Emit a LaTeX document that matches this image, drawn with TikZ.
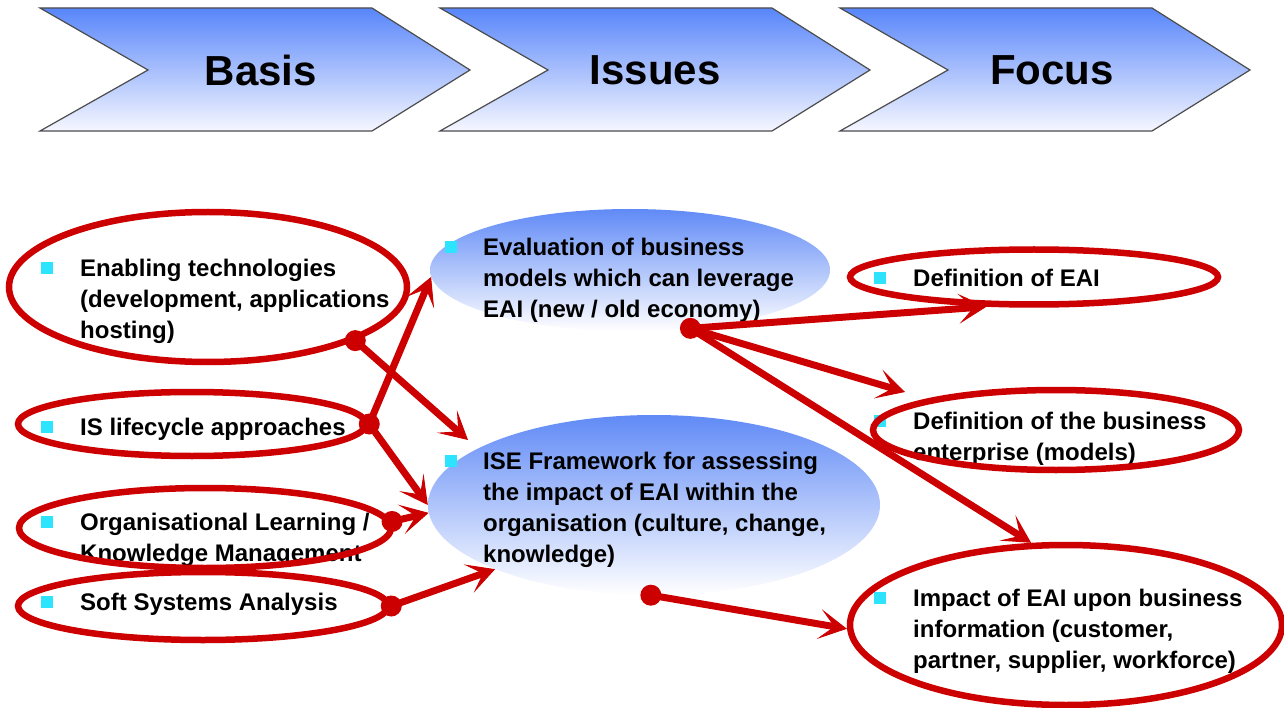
\documentclass[tikz,border=0pt]{standalone}
\usepackage{fontspec}
\setmainfont{Liberation Sans}
\usetikzlibrary{shapes.geometric,arrows.meta}
\definecolor{eaired}{RGB}{204,0,0}
\definecolor{chevblue}{RGB}{88,134,250}
\definecolor{chevlow}{RGB}{246,247,255}
\definecolor{ellblue}{RGB}{96,138,246}
\definecolor{bulletcyan}{RGB}{45,228,255}
\begin{document}
\begin{tikzpicture}[x=1pt,y=-1pt,
  chev/.style={draw=black!70, line width=1.2pt, top color=chevblue, bottom color=chevlow},
  chevtext/.style={font=\fontsize{42}{50}\selectfont\bfseries, inner sep=0},
  redell/.style={ellipse, draw=eaired, line width=6.5pt, inner sep=0},
  blueell/.style={ellipse, inner sep=0, top color=ellblue, bottom color=white},
  txt/.style={anchor=north west, align=left, inner sep=0, font=\fontsize{24}{31}\selectfont\bfseries},
  bul/.style={rectangle, fill=bulletcyan, minimum size=12pt, inner sep=0},
  dot/.style={circle, fill=eaired, minimum size=21pt, inner sep=0},
  link/.style={draw=eaired, line width=7pt, -{Stealth[length=28pt,width=30pt,inset=15pt,line width=1pt]}}
]
\useasboundingbox (0,0) rectangle (1284,708);
\fill[white] (0,0) rectangle (1284,708);

% chevrons
\draw[chev] (40,8) -- (372,8) -- (470,70) -- (372,131) -- (40,131) -- (148,70) -- cycle;
\draw[chev] (440,8) -- (772,8) -- (870,70) -- (772,131) -- (440,131) -- (548,70) -- cycle;
\draw[chev] (840,8) -- (1152,8) -- (1250,70) -- (1152,131) -- (840,131) -- (948,70) -- cycle;
\node[chevtext] (basis) at (261,70) {Basis};
\node[chevtext] (issues) at (655,70) {Issues};
\node[chevtext] (focus) at (1052,70) {Focus};

% blue ellipses
\node[blueell, minimum width=400pt, minimum height=122pt] (b1) at (630,270) {};
\node[blueell, minimum width=452pt, minimum height=180pt] (b2) at (654,505) {};

% texts and bullets
\node[bul] (s1) at (47,268) {};
\node[txt] (t1) at (80,259) {Enabling technologies\\(development, applications\\hosting)};
\node[bul] (s2) at (47,427) {};
\node[txt] (t2) at (80,418) {IS lifecycle approaches};
\node[bul] (s3) at (47,522) {};
\node[txt] (t3) at (80,513) {Organisational Learning /\\Knowledge Management};
\node[bul] (s4) at (47,602) {};
\node[txt] (t4) at (80,593) {Soft Systems Analysis};
\node[bul] (s5) at (451,247) {};
\node[txt] (t5) at (483,238) {Evaluation of business\\models which can leverage\\EAI (new / old economy)};
\node[bul] (s6) at (451,461) {};
\node[txt] (t6) at (483,452) {ISE Framework for assessing\\the impact of EAI within the\\organisation (culture, change,\\knowledge)};
\node[bul] (s7) at (880,278) {};
\node[txt] (t7) at (913,269) {Definition of EAI};
\node[bul] (s8) at (880,421) {};
\node[txt] (t8) at (913,412) {Definition of the business\\enterprise (models)};
\node[bul] (s9) at (880,598) {};
\node[txt] (t9) at (913,589) {Impact of EAI upon business\\information (customer,\\partner, supplier, workforce)};

% red ellipses
\node[redell, minimum width=398pt, minimum height=150pt] (e1) at (208,287) {};
\node[redell, minimum width=348pt, minimum height=64pt] (e2) at (192,424) {};
\node[redell, minimum width=372pt, minimum height=80pt] (e3) at (205,528) {};
\node[redell, minimum width=370pt, minimum height=68pt] (e4) at (203,606) {};
\node[redell, minimum width=368pt, minimum height=55pt] (e5) at (1034,277) {};
\node[redell, minimum width=366pt, minimum height=80pt] (e6) at (1056,430) {};
\node[redell, minimum width=432pt, minimum height=160pt] (e7) at (1066,625) {};

% dots
\node[dot] (d1) at (e1.-20) {};
\node[dot] (d2) at (e2.east) {};
\node[dot] (d3) at (e3.2) {};
\node[dot] (d4) at (e4.east) {};
\node[dot] (d5) at (b1.-44) {};
\node[dot] (d6) at (b2.-92) {};
\coordinate (tipB2) at (468,440);
\coordinate (tipE6) at (905,392);

% connectors
\draw[link] (d1.center) -- (tipB2);
\draw[link] (d2.center) -- (b1.182);
\draw[link] (d2.center) -- (b2.west);
\draw[link] (d3.center) -- (b2.182);
\draw[link] (d4.center) -- (b2.202);
\draw[link] (d5.center) -- (e5.212);
\draw[link] (d5.center) -- (tipE6);
\draw[link] (d5.center) -- (e7.113);
\draw[link] (d6.center) -- (e7.181);
\end{tikzpicture}
\end{document}
